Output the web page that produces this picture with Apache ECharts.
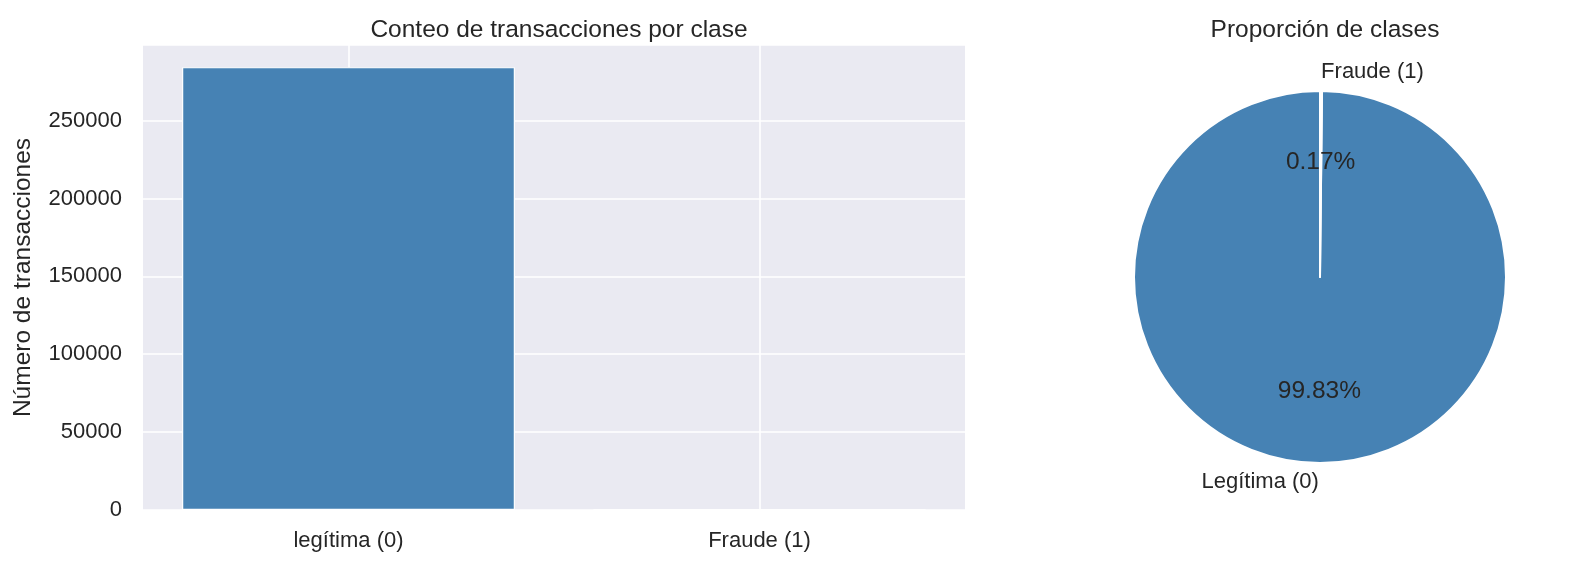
<!DOCTYPE html>
<html>
<head>
<meta charset="utf-8">
<script src="https://cdn.jsdelivr.net/npm/echarts@6/dist/echarts.min.js"></script>
<style>
html,body{margin:0;padding:0;background:#fff;}
#chart{width:1594px;height:574px;}
</style>
</head>
<body>
<div id="chart"></div>
<script>
// Data
const barCategories = ['legítima (0)', 'Fraude (1)'];
const barCounts = [284315, 492];
const pieLabels = ['Legítima (0)', 'Fraude (1)'];
const pieCounts = [284315, 492];
const yTicks = [0, 50000, 100000, 150000, 200000, 250000];

const FONT = '"Liberation Sans", Arial, sans-serif';
const TXT = '#262626';
const BLUE = '#4682B4';
const yMax = barCounts[0] * 1.05;

const chart = echarts.init(document.getElementById('chart'), null, {renderer: 'canvas'});
chart.setOption({
  animation: false,
  textStyle: {fontFamily: FONT},
  title: [
    {text: 'Conteo de transacciones por clase', left: 554, top: 13, textAlign: 'center',
     textStyle: {fontFamily: FONT, fontSize: 24.5, fontWeight: 'normal', color: TXT}},
    {text: 'Proporción de clases', left: 1320, top: 13, textAlign: 'center',
     textStyle: {fontFamily: FONT, fontSize: 24.5, fontWeight: 'normal', color: TXT}}
  ],
  grid: {left: 143, top: 45, width: 822, height: 465, show: true, backgroundColor: '#EAEAF2', borderWidth: 0},
  xAxis: {
    type: 'category', data: barCategories,
    axisLine: {show: false}, axisTick: {show: false},
    axisLabel: {fontFamily: FONT, fontSize: 22, color: TXT, margin: 20},
    splitLine: {show: false}
  },
  yAxis: {
    type: 'value', min: 0, max: yMax, interval: 50000,
    axisLine: {show: false}, axisTick: {show: false},
    axisLabel: {fontFamily: FONT, fontSize: 22, color: TXT, margin: 21, showMaxLabel: false,
      formatter: v => yTicks.includes(v) ? String(v) : ''},
    splitLine: {show: true, lineStyle: {color: '#ffffff', width: 1.6}},
    name: 'Número de transacciones', nameLocation: 'middle', nameGap: 107,
    nameTextStyle: {fontFamily: FONT, fontSize: 24.5, color: TXT}
  },
  series: [
    {
      type: 'line', data: [], z: 1, silent: true,
      markLine: {
        z: 1, silent: true, symbol: ['none', 'none'], label: {show: false},
        lineStyle: {color: '#ffffff', width: 1.6, type: 'solid'},
        data: barCategories.map(c => ({xAxis: c}))
      }
    },
    {
      type: 'bar', data: barCounts, z: 2, barWidth: '81%',
      itemStyle: {color: BLUE, borderColor: '#ffffff', borderWidth: 1.2}
    },
    {
      type: 'pie', center: [1320, 277], radius: [0, 186],
      startAngle: 90, clockwise: false, avoidLabelOverlap: false,
      data: pieLabels.map((n, i) => ({name: n, value: pieCounts[i]})),
      itemStyle: {color: BLUE, borderColor: '#ffffff', borderWidth: 2},
      label: {show: true, position: 'outside', formatter: '{b}', fontFamily: FONT, fontSize: 22, color: TXT,
        distanceToLabelLine: 0},
      labelLine: {show: false, length: 18.6, length2: 0},
      emphasis: {disabled: true}
    },
    {
      type: 'pie', center: [1320, 277], radius: [37.2, 186],
      startAngle: 90, clockwise: false, avoidLabelOverlap: false, silent: true,
      percentPrecision: 2,
      data: pieLabels.map((n, i) => ({name: n, value: pieCounts[i]})),
      itemStyle: {color: 'rgba(0,0,0,0)', borderWidth: 0},
      label: {show: true, position: 'inside', formatter: '{d}%', fontFamily: FONT, fontSize: 24.5, color: TXT},
      labelLine: {show: false},
      emphasis: {disabled: true}
    }
  ]
});
</script>
</body>
</html>
